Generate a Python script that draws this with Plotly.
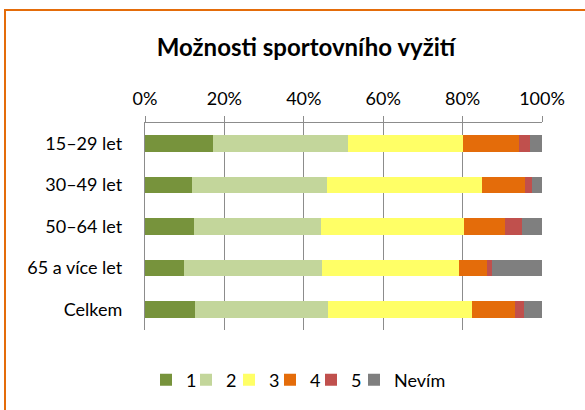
import plotly.graph_objects as go

categories = ["15–29 let", "30–49 let", "50–64 let", "65 a více let", "Celkem"]
series_names = ["1", "2", "3", "4", "5", "Nevím"]
v1 = [17.1, 11.8, 12.3, 9.8, 12.5]
v2 = [34.0, 34.1, 32.0, 34.8, 33.6]
v3 = [29.0, 39.0, 36.1, 34.6, 36.2]
v4 = [14.0, 10.9, 10.3, 6.9, 10.8]
v5 = [3.0, 1.8, 4.3, 1.4, 2.4]
v6 = [2.9, 2.4, 5.0, 12.5, 4.5]
series_values = [v1, v2, v3, v4, v5, v6]
colors = ["#77933C", "#C3D69B", "#FFFF66", "#E46C0A", "#C0504D", "#7F7F7F"]
tick_vals = [0, 20, 40, 60, 80, 100]
tick_text = ["0%", "20%", "40%", "60%", "80%", "100%"]

W, H = 585, 410
L, R, T, B = 145, 43, 123, 80
pw, ph = W - L - R, H - T - B

def px_x(p):
    return (p - L) / pw

def px_y(p):
    return (H - B - p) / ph

FONT = "Lato, Calibri, Carlito, sans-serif"

# left edges (px) of the legend swatches in the reference
legend_px = [165, 205, 248, 289, 330, 373]
legend_ids = ["legend", "legend2", "legend3", "legend4", "legend5", "legend6"]

fig = go.Figure()
for name, vals, c, lid in zip(series_names, series_values, colors, legend_ids):
    fig.add_trace(go.Bar(
        y=categories, x=vals, name=name, orientation="h", legend=lid,
        showlegend=True, marker=dict(color=c, line=dict(width=0)),
    ))

legends = {}
for lid, lx in zip(legend_ids, legend_px):
    legends[lid] = dict(orientation="h", x=(lx - 19) / W, xanchor="left", xref="container",
                        y=1 - 380 / H, yanchor="middle", yref="container",
                        font=dict(size=18), itemwidth=30, bgcolor="rgba(0,0,0,0)")

fig.update_layout(
    width=W, height=H, showlegend=True,
    barmode="stack", bargap=0.6,
    margin=dict(l=L, r=R, t=T, b=B, pad=0, autoexpand=False),
    paper_bgcolor="white", plot_bgcolor="white",
    font=dict(family=FONT, size=18, color="#000000"),
    title=dict(text="<b>Možnosti sportovního vyžití</b>", x=306 / W, xanchor="center",
               y=1 - 48 / H, yanchor="middle", font=dict(size=24, family=FONT)),
    xaxis=dict(side="top", range=[0, 100], tickvals=tick_vals, ticktext=tick_text,
               showgrid=True, gridcolor="#8C8C8C", gridwidth=1.3,
               showline=True, linecolor="#8C8C8C", linewidth=1.3,
               ticks="outside", ticklen=6, tickcolor="#8C8C8C", tickwidth=1.3,
               ticklabelstandoff=4, automargin=False,
               tickfont=dict(size=18), zeroline=False, fixedrange=True),
    yaxis=dict(autorange="reversed", showline=True, linecolor="#8C8C8C", linewidth=1.3,
               ticks="", ticklabelstandoff=18, tickfont=dict(size=18), showgrid=False,
               automargin=False, fixedrange=True),
    shapes=[
        dict(type="line", xref="paper", yref="paper", x0=px_x(5), x1=px_x(5),
             y0=px_y(10), y1=px_y(420), line=dict(color="#E46C0A", width=2)),
        dict(type="line", xref="paper", yref="paper", x0=px_x(4), x1=px_x(600),
             y0=px_y(10), y1=px_y(10), line=dict(color="#E46C0A", width=2)),
    ],
    **legends,
)

fig.write_html("out.html", config={"displayModeBar": False},
               post_script="document.body.style.margin='0';")
